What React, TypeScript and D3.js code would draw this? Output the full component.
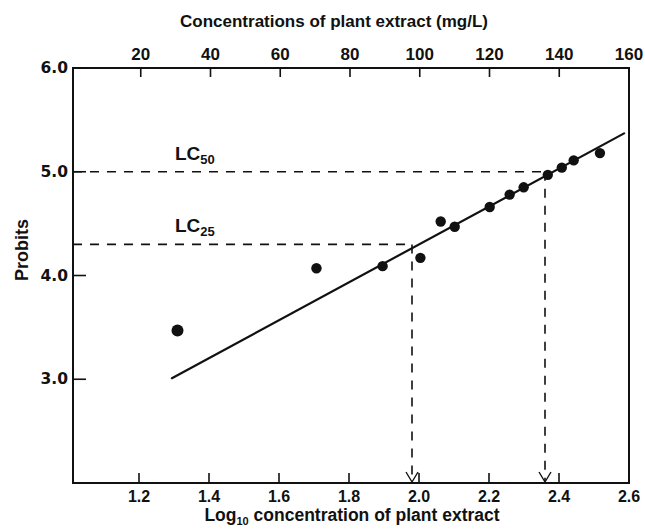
import React from 'react';
import * as d3 from 'd3';

// tick labels
const probitTicks = [3.0, 4.0, 5.0, 6.0];
const logTicks = [1.2, 1.4, 1.6, 1.8, 2.0, 2.2, 2.4, 2.6];
const concTicks = [20, 40, 60, 80, 100, 120, 140, 160];

// observed points (log10 concentration, probit)
const logConc = [1.31, 1.707, 1.896, 2.004, 2.062, 2.102, 2.202, 2.259, 2.299, 2.368, 2.408, 2.442, 2.517];
const probits = [3.47, 4.07, 4.09, 4.17, 4.52, 4.47, 4.66, 4.78, 4.85, 4.97, 5.04, 5.11, 5.18];

// regression line end points
const fitX = [1.294, 2.586];
const fitY = [3.01, 5.37];

// lethal concentrations
const lcNames = ['50', '25'];
const lcLog = [2.36, 1.98];
const lcProbit = [5.0, 4.3];

const W = 645;
const H = 530;
const left = 73;
const top = 68;
const bottom = 483;

const App = () => {
  const x = d3.scaleLinear().domain([1.0, 2.6]).range([69, 629]);
  const xTop = d3.scaleLinear().domain([0, 160]).range([71, 629]);
  const y = d3.scaleLinear().domain([2, 6]).range([bottom, top]);
  const right = x(2.6);

  const fitPath = d3.line<number>()
    .x((d, i) => x(fitX[i]))
    .y(d => y(d))(fitY);

  const bold = 'Liberation Sans, Arial, sans-serif';

  return (
    <svg width={W} height={H} style={{ position: 'absolute', left: 0, top: 0, background: '#fff' }}>
      {/* frame */}
      <g stroke="#111" strokeWidth={2} fill="none">
        <line x1={left} x2={right} y1={top} y2={top} />
        <line x1={left} x2={right} y1={bottom} y2={bottom} />
        <line x1={left} x2={left} y1={top - 1} y2={bottom + 1} />
        <line x1={right} x2={right} y1={top - 1} y2={bottom + 1} />
      </g>

      {/* top axis */}
      <text x={xTop(80) - 16} y={27} textAnchor="middle" fontFamily={bold} fontWeight="bold" fontSize={17} fill="#111">
        Concentrations of plant extract (mg/L)
      </text>
      {concTicks.map(t => (
        <g key={t}>
          <line x1={xTop(t)} x2={xTop(t)} y1={top} y2={top + 9} stroke="#111" strokeWidth={1.6} />
          <text x={xTop(t)} y={60} textAnchor="middle" fontFamily={bold} fontWeight="bold" fontSize={17} fill="#111">{t}</text>
        </g>
      ))}

      {/* bottom axis */}
      {logTicks.map(t => (
        <g key={t}>
          {t < 2.6 && <line x1={x(t)} x2={x(t)} y1={bottom} y2={bottom - 10} stroke="#111" strokeWidth={1.6} />}
          <text x={x(t)} y={502} textAnchor="middle" fontFamily={bold} fontWeight="bold" fontSize={16} fill="#111">{t.toFixed(1)}</text>
        </g>
      ))}
      <text x={352} y={521} textAnchor="middle" fontFamily={bold} fontWeight="bold" fontSize={17.5} fill="#111">
        Log<tspan fontSize={11} dy={4}>10</tspan><tspan dy={-4}> concentration of plant extract</tspan>
      </text>

      {/* left axis */}
      {probitTicks.map(t => (
        <g key={t}>
          <line x1={left} x2={left + 13} y1={y(t)} y2={y(t)} stroke="#111" strokeWidth={1.6} />
          <text x={68} y={y(t) + 5} textAnchor="end" fontFamily="DejaVu Sans, sans-serif" fontWeight="bold" fontSize={15.5} fill="#111">{t.toFixed(1)}</text>
        </g>
      ))}
      <text transform={`translate(28,250) rotate(-90)`} textAnchor="middle" fontFamily={bold} fontWeight="bold" fontSize={18} fill="#111">Probits</text>

      {/* LC guides */}
      {lcNames.map((n, i) => {
        const px = x(lcLog[i]);
        const py = y(lcProbit[i]);
        return (
          <g key={n}>
            <line x1={left} x2={px} y1={py} y2={py} stroke="#111" strokeWidth={1.6} strokeDasharray="9 8" />
            <line x1={px} x2={px} y1={py} y2={bottom - 2} stroke="#111" strokeWidth={1.6} strokeDasharray="9 8" />
            <path d={`M${px - 6},${bottom - 11}L${px},${bottom - 1}L${px + 6},${bottom - 11}`} stroke="#111" strokeWidth={1.4} fill="none" />
            <text x={175} y={py - 12} fontFamily={bold} fontWeight="bold" fontSize={19} fill="#111">
              LC<tspan fontSize={13} dy={4}>{n}</tspan>
            </text>
          </g>
        );
      })}

      {/* regression line */}
      <path d={fitPath ?? ''} stroke="#111" strokeWidth={2.2} fill="none" strokeLinecap="round" />

      {/* points */}
      {logConc.map((d, i) => (
        <circle key={i} cx={x(d)} cy={y(probits[i])} r={i === 0 ? 6 : 5.2} fill="#111" />
      ))}
    </svg>
  );
};

export default App;
